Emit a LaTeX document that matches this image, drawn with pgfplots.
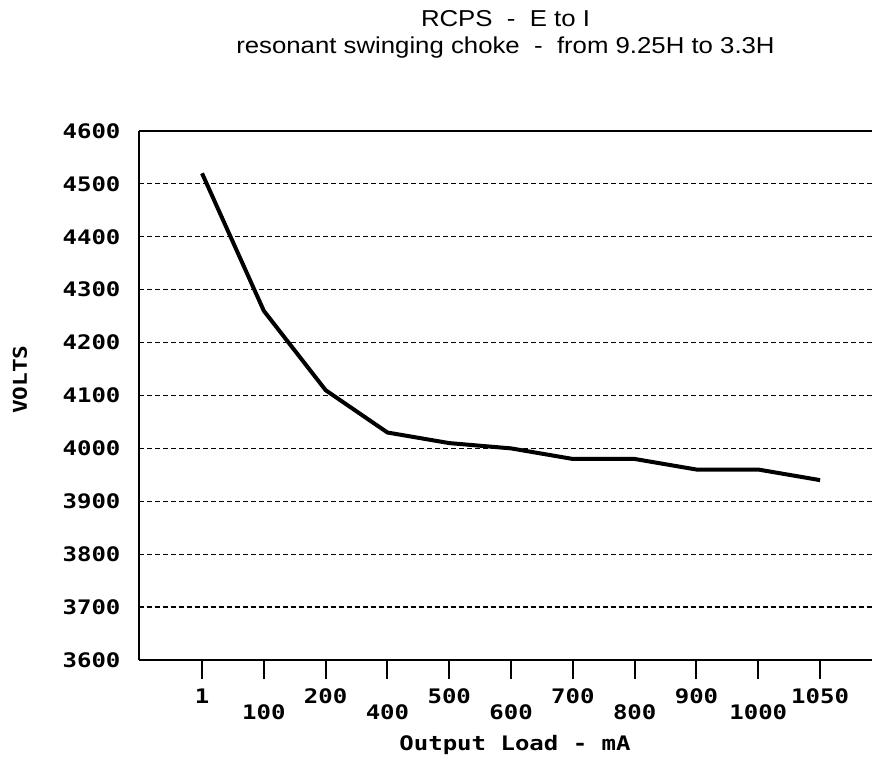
\documentclass[border=0pt]{standalone}
\usepackage{fontspec}
\usepackage{pgfplots}
\pgfplotsset{compat=1.18}
\setmainfont{Liberation Sans}
\newfontfamily\titlefont[FakeStretch=1.12]{Liberation Sans}
\newfontfamily\pix[FakeStretch=1.2]{DejaVu Sans Mono}

\begin{document}
\begin{tikzpicture}
\path[use as bounding box] (-69.5pt,-51.5pt) rectangle (366.5pt,330pt);
\begin{axis}[
    at={(0,0)}, anchor=south west,
    scale only axis, width=366.5pt, height=264.5pt,
    xmin=-1.02, xmax=10.84, ymin=3600, ymax=4600,
    axis lines=left, axis line style={-, line width=1pt},
    clip=false,
    xtick={0,2,4,6,8,10},
    xticklabels={1,200,500,700,900,1050},
    extra x ticks={1,3,5,7,9},
    extra x tick labels={100,400,600,800,1000},
    extra x tick style={xticklabel style={yshift=-8pt}},
    xtick align=outside, major tick length=9.5pt,
    xtick style={line width=1pt, black},
    ytick={3600,3700,...,4600},
    ytick style={draw=none},
    ymajorgrids,
    major grid style={black, line width=0.6pt, dash pattern=on 2.3pt off 1.7pt},
    scaled y ticks=false,
    /pgf/number format/1000 sep={},
    /pgf/number format/assume math mode=true,
    tick label style={font=\pix\bfseries\fontsize{10}{12}\selectfont},
    xticklabel style={anchor=center, yshift=-8.5pt},
    yticklabel style={anchor=east, xshift=-1pt},
    xlabel={Output Load - mA},
    xlabel style={font=\pix\bfseries\fontsize{10}{12}\selectfont,
        at={(rel axis cs:0.513,0)}, anchor=center, yshift=-42.5pt},
    ylabel={VOLTS},
    ylabel style={font=\pix\bfseries\fontsize{9.5}{11}\selectfont,
        at={(rel axis cs:0,0.53)}, anchor=center, yshift=59.5pt},
    title={RCPS~~-~~E to I\\resonant swinging choke~~-~~from 9.25H to 3.3H},
    title style={font=\titlefont\fontsize{11.5}{13.5}\selectfont, align=center,
        at={(rel axis cs:0.5,1)}, anchor=south, yshift=27pt},
]
\addplot[black, line width=2pt, line join=round] coordinates {
    (0,4520) (1,4260) (2,4110) (3,4030) (4,4010) (5,4000)
    (6,3980) (7,3980) (8,3960) (9,3960) (10,3940)};
\draw[line width=1pt] (rel axis cs:0,1) -- (rel axis cs:1,1);
\end{axis}
\end{tikzpicture}
\end{document}
